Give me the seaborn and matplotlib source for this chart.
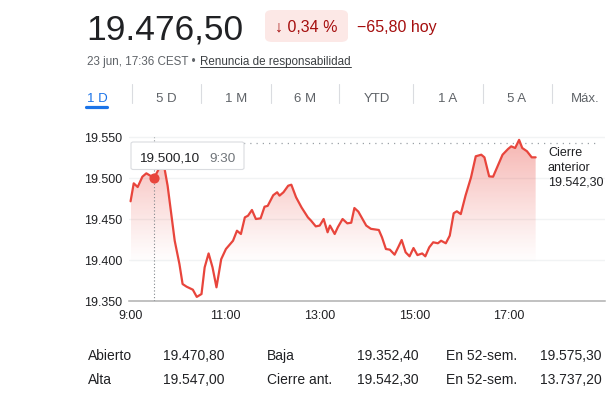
import numpy as np
import pandas as pd
import seaborn as sns
import matplotlib.pyplot as plt
from matplotlib.patches import FancyBboxPatch, Polygon

# intraday data, minutes after 9:00
minutes = [0, 4, 9, 15, 20, 25, 30, 40, 43, 47, 56, 62, 66, 71, 79, 84, 90, 94,
           99, 104, 109, 115, 121, 130, 135, 140, 145, 149, 154, 159, 165, 170,
           174, 181, 186, 189, 194, 200, 204, 210, 217, 225, 229, 235, 240, 245,
           250, 253, 259, 263, 269, 275, 280, 284, 289, 299, 305, 315, 319, 324,
           329, 335, 340, 344, 349, 354, 359, 364, 370, 374, 379, 384, 390, 394,
           400, 405, 410, 414, 419, 425, 432, 438, 445, 449, 455, 460, 466, 472,
           479, 483, 488, 493, 497, 503, 509, 514]
prices = [19471.6, 19493.5, 19489, 19501.6, 19505.7, 19502.8, 19500.1, 19519,
          19512, 19490.6, 19423.5, 19395, 19370.7, 19367.5, 19363.8, 19355,
          19358.5, 19391, 19408, 19391, 19366.7, 19401, 19413.4, 19423.5,
          19435.7, 19431.7, 19452, 19454, 19461, 19450, 19450.8, 19465, 19466,
          19479, 19482.6, 19478.5, 19482.6, 19490.6, 19491.8, 19476.5, 19464,
          19452, 19448, 19441, 19442, 19450, 19433.8, 19442, 19431.7, 19440,
          19450, 19444.7, 19445.5, 19463.4, 19459, 19442, 19438, 19436.6,
          19427.7, 19413.4, 19412.6, 19406.5, 19416.3, 19424.4, 19409.4,
          19404.5, 19414.6, 19406, 19408, 19404.5, 19415.5, 19421.6, 19420.4,
          19423.5, 19420.4, 19429.7, 19457, 19459.4, 19456, 19478.5, 19500.8,
          19526.5, 19528.4, 19525.2, 19502, 19501.6, 19515, 19528.4, 19535.4,
          19538.6, 19536.6, 19546.5, 19536.6, 19532.6, 19525.2, 19525.2]

prev_close = 19542.3
hover_min, hover_val = 30, 19500.1

x_ticks = [0, 120, 240, 360, 480]
x_labels = ['9:00', '11:00', '13:00', '15:00', '17:00']
y_ticks = [19350, 19400, 19450, 19500, 19550]
y_labels = ['19.350', '19.400', '19.450', '19.500', '19.550']

tabs = ['1 D', '5 D', '1 M', '6 M', 'YTD', '1 A', '5 A', 'Máx.']
tab_x = [97, 166, 236, 305, 377, 448, 517, 585]
sep_x = [132, 201, 271, 339, 413, 483, 552]

stats_names = [['Abierto', 'Alta'], ['Baja', 'Cierre ant.'], ['En 52-sem.', 'En 52-sem.']]
stats_values = [['19.470,80', '19.547,00'], ['19.352,40', '19.542,30'], ['19.575,30', '13.737,20']]

df = pd.DataFrame({'min': minutes, 'price': prices})

sns.set_style('white')
plt.rcParams['font.family'] = ['Liberation Sans', 'DejaVu Sans']

W, H = 616, 402
fig = plt.figure(figsize=(W / 100, H / 100), dpi=100)


def fx(x):
    return x / W


def fy(y):
    return 1 - y / H


RED = '#e8453c'
DARK = '#202124'
GREY = '#5f6368'

ax = fig.add_axes([fx(129), fy(302), 476 / W, (302 - 133.9) / H])
sns.lineplot(data=df, x='min', y='price', color=RED, lw=1.6, ax=ax, zorder=4)

# gradient fill under the line
yy = np.linspace(19350, 19555, 200)
alpha = np.clip((yy - 19395) / 160, 0, 1) ** 1.1 * 0.42
grad = np.zeros((200, 2, 4))
grad[:, :, 0] = 0.91
grad[:, :, 1] = 0.27
grad[:, :, 2] = 0.235
grad[:, :, 3] = alpha[:, None]
im = ax.imshow(grad, extent=[0, minutes[-1], 19350, 19555], origin='lower',
               aspect='auto', zorder=2)
poly = Polygon(list(zip(minutes, prices)) + [(minutes[-1], 19350), (0, 19350)],
               closed=True, transform=ax.transData, facecolor='none', edgecolor='none')
ax.add_patch(poly)
im.set_clip_path(poly)

for t in y_ticks[1:]:
    ax.axhline(t, color='#f1f3f4', lw=1, zorder=1)
ax.plot([0, 592], [prev_close, prev_close], color='#9aa0a6', lw=0.9,
        ls=(0, (1, 4)), zorder=3)
ax.plot([hover_min, hover_min], [19350, 19550], color='#80868b', lw=0.8,
        ls=(0, (1, 2)), zorder=3)
ax.plot([hover_min], [hover_val], 'o', color=RED, ms=6.3, zorder=5)

ax.set_xlim(-2, 602)
ax.set_ylim(19350, 19555)
ax.set_xticks(x_ticks)
ax.set_xticklabels(x_labels)
ax.set_yticks(y_ticks)
ax.set_yticklabels(y_labels)
ax.set_xlabel('')
ax.set_ylabel('')
ax.tick_params(axis='x', length=4, width=1, color='#b0b0b0', labelsize=9,
               labelcolor=DARK, pad=2)
ax.tick_params(axis='y', length=0, labelsize=9, labelcolor=DARK, pad=5)
for s in ['top', 'right', 'left']:
    ax.spines[s].set_visible(False)
ax.spines['bottom'].set_color('#b0b0b0')
ax.spines['bottom'].set_linewidth(1.1)

# previous close label
for i, line in enumerate(['Cierre', 'anterior', '19.542,30']):
    fig.text(fx(548), fy(156 + 15 * i), line, fontsize=9, color=DARK, va='baseline')

# tooltip
fig.patches.append(FancyBboxPatch((fx(131), fy(170.5)), fx(113), 27.5 / H,
                                  boxstyle='round,pad=0,rounding_size=0.004',
                                  transform=fig.transFigure, facecolor='white',
                                  edgecolor='#dadce0', lw=0.8, zorder=6))
fig.text(fx(139), fy(161.5), '19.500,10', fontsize=9.7, color=DARK, va='baseline', zorder=7)
fig.text(fx(209), fy(161.5), '9:30', fontsize=9.7, color='#70757a', va='baseline', zorder=7)

# header
fig.text(fx(86), fy(39.3), '19.476,50', fontsize=25.5, color=DARK, va='baseline')
fig.patches.append(FancyBboxPatch((fx(265), fy(43)), fx(83), 32 / H,
                                  boxstyle='round,pad=0,rounding_size=0.012',
                                  transform=fig.transFigure, facecolor='#fce8e6',
                                  edgecolor='none'))
fig.text(fx(306.5), fy(31.7), '↓ 0,34 %', fontsize=11.5, color='#a50e0e',
         va='baseline', ha='center')
fig.text(fx(357), fy(31.7), '−65,80 hoy', fontsize=11.5, color='#a50e0e', va='baseline')
fig.text(fx(87), fy(65.5), '23 jun, 17:36 CEST •', fontsize=8.4, color=GREY, va='baseline')
disc = fig.text(fx(200), fy(65.5), 'Renuncia de responsabilidad', fontsize=8.4,
                color='#3c4043', va='baseline')
fig.canvas.draw()
bb = disc.get_window_extent()
fig.lines.append(plt.Line2D([bb.x0 / W, bb.x1 / W], [fy(68), fy(68)], color='#3c4043',
                            lw=0.7, transform=fig.transFigure))

# range tabs
for name, x in zip(tabs, tab_x):
    fig.text(fx(x), fy(101.7), name, fontsize=9.5, ha='center', va='baseline',
             color='#1a73e8' if name == '1 D' else GREY)
for x in sep_x:
    fig.lines.append(plt.Line2D([fx(x), fx(x)], [fy(85), fy(104)], color='#dadce0',
                                lw=0.8, transform=fig.transFigure))
fig.lines.append(plt.Line2D([fx(86), fx(107)], [fy(108), fy(108)], color='#1a73e8',
                            lw=2.3, solid_capstyle='round', transform=fig.transFigure))

# stats table
name_x = [88, 267, 446]
val_x = [163, 357, 540]
for c in range(3):
    for r in range(2):
        yb = 360 + 24 * r
        fig.text(fx(name_x[c]), fy(yb), stats_names[c][r], fontsize=10, color=DARK, va='baseline')
        fig.text(fx(val_x[c]), fy(yb), stats_values[c][r], fontsize=10, color=DARK, va='baseline')

fig.savefig('out.png', dpi=100)
